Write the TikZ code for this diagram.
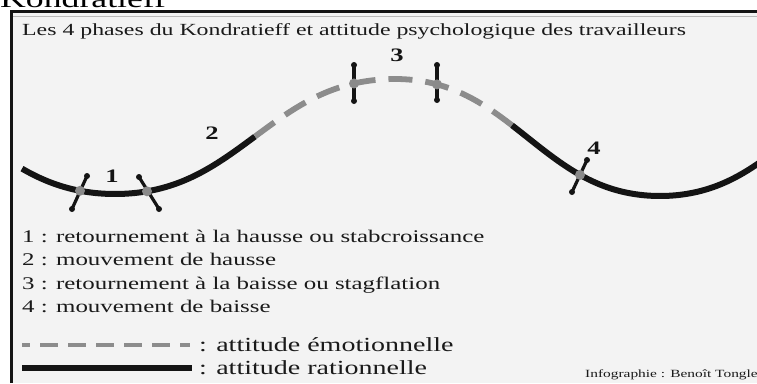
\documentclass[tikz,border=0pt]{standalone}
\usepackage{fontspec}
\setmainfont{Liberation Serif}[FakeStretch=1.4]
\definecolor{bg}{HTML}{F3F3F3}
\definecolor{dashgrey}{HTML}{8C8C8C}
\definecolor{markgrey}{HTML}{8A8A8A}
\definecolor{ink}{HTML}{141414}
\definecolor{txt}{HTML}{1A1A1A}
\tikzset{
  declare function={
    yl(\t)=136.5+59.625*cos((\t-115)/280*180)-2.125*cos((\t-115)/280*540);
    yr(\t)=137.5+60.625*cos((\t-660)/265*180)-2.125*cos((\t-660)/265*540);
  },
  rational/.style={line width=6pt, draw=ink},
  emotional/.style={line width=5.8pt, draw=dashgrey, dash pattern=on 24pt off 13pt},
  tickline/.style={line width=3.2pt, draw=ink},
  tickend/.style={circle, fill=ink, inner sep=0pt, minimum size=6pt},
  marker/.style={circle, fill=markgrey, inner sep=0pt, minimum size=10pt},
  phaselabel/.style={font=\fontsize{19}{19}\selectfont\bfseries, inner sep=0pt, text=ink},
  titletext/.style={anchor=base west, inner sep=0pt, text=txt, font=\fontsize{17}{20}\selectfont},
  legendtext/.style={anchor=base west, inner sep=0pt, text=txt, font=\fontsize{17.8}{20}\selectfont},
  keytext/.style={anchor=base west, inner sep=0pt, text=txt, font=\fontsize{20}{22}\selectfont},
}
\begin{document}
\begin{tikzpicture}[x=1pt,y=-1pt]
\useasboundingbox (0,0) rectangle (757,383);
\clip (0,0) rectangle (757,383);
\fill[white] (0,0) rectangle (757,383);
\fill[bg] (12,12) rectangle (757,383);
\draw[gray!55, line width=0.8pt] (13,16.5) -- (757,16.5);
\draw[ink, line width=3pt] (11.5,383) -- (11.5,11.5) -- (757,11.5);

\node[anchor=base west, inner sep=0pt, font=\fontsize{25.5}{26}\selectfont] (kond) at (0,7.5) {Kondratieff};
\node[titletext] (title) at (22,35) {Les 4 phases du Kondratieff et attitude psychologique des travailleurs};

% curve
\draw[rational] plot[domain=22:255, samples=70, smooth] (\x,{yl(\x)});
\draw[emotional] plot[domain=255:395, samples=50, smooth] (\x,{yl(\x)})
   -- plot[domain=395:512, samples=40, smooth] (\x,{yr(\x)});
\draw[rational] plot[domain=512:775, samples=80, smooth] (\x,{yr(\x)});

% ticks
\node[tickend] (t1a) at (72,209) {};
\node[tickend] (t1b) at (87,176) {};
\node[tickend] (t2a) at (139,177) {};
\node[tickend] (t2b) at (159,209) {};
\node[tickend] (t3a) at (354,65) {};
\node[tickend] (t3b) at (354,101) {};
\node[tickend] (t4a) at (437,65) {};
\node[tickend] (t4b) at (437,100) {};
\node[tickend] (t5a) at (572,192) {};
\node[tickend] (t5b) at (587,160) {};
\draw[tickline] (t1a.center) -- (t1b.center);
\draw[tickline] (t2a.center) -- (t2b.center);
\draw[tickline] (t3a.center) -- (t3b.center);
\draw[tickline] (t4a.center) -- (t4b.center);
\draw[tickline] (t5a.center) -- (t5b.center);

% markers
\node[marker] (m1) at (80,{yl(80)}) {};
\node[marker] (m2) at (147,{yl(147)}) {};
\node[marker] (m3) at (354,{yl(354)}) {};
\node[marker] (m4) at (437,{yr(437)}) {};
\node[marker] (m5) at (580,{yr(580)}) {};

% phase labels
\node[phaselabel] (p1) at (112,176) {1};
\node[phaselabel] (p2) at (212,133) {2};
\node[phaselabel] (p3) at (397,55) {3};
\node[phaselabel] (p4) at (594,148) {4};

% legend
\node[legendtext] (l1) at (22,242) {1 : retournement à la hausse ou stabcroissance};
\node[legendtext] (l2) at (22,265.5) {2 : mouvement de hausse};
\node[legendtext] (l3) at (22,289) {3 : retournement à la baisse ou stagflation};
\node[legendtext] (l4) at (22,312.5) {4 : mouvement de baisse};

\coordinate (ea) at (22,345);
\coordinate (eb) at (190,345);
\coordinate (ra) at (22,368);
\coordinate (rb) at (192,368);
\draw[line width=4.5pt, draw=dashgrey, dash pattern=on 18pt off 10pt, dash phase=10pt] (ea) -- (eb);
\draw[rational] (ra) -- (rb);
\node[keytext] (ke) at (199,351) {: attitude émotionnelle};
\node[keytext] (kr) at (199,374) {: attitude rationnelle};

\node[anchor=base west, inner sep=0pt, text=txt, font=\fontsize{11}{12}\selectfont] (credit) at (585,377) {Infographie : Benoît Tongle};
\end{tikzpicture}
\end{document}
